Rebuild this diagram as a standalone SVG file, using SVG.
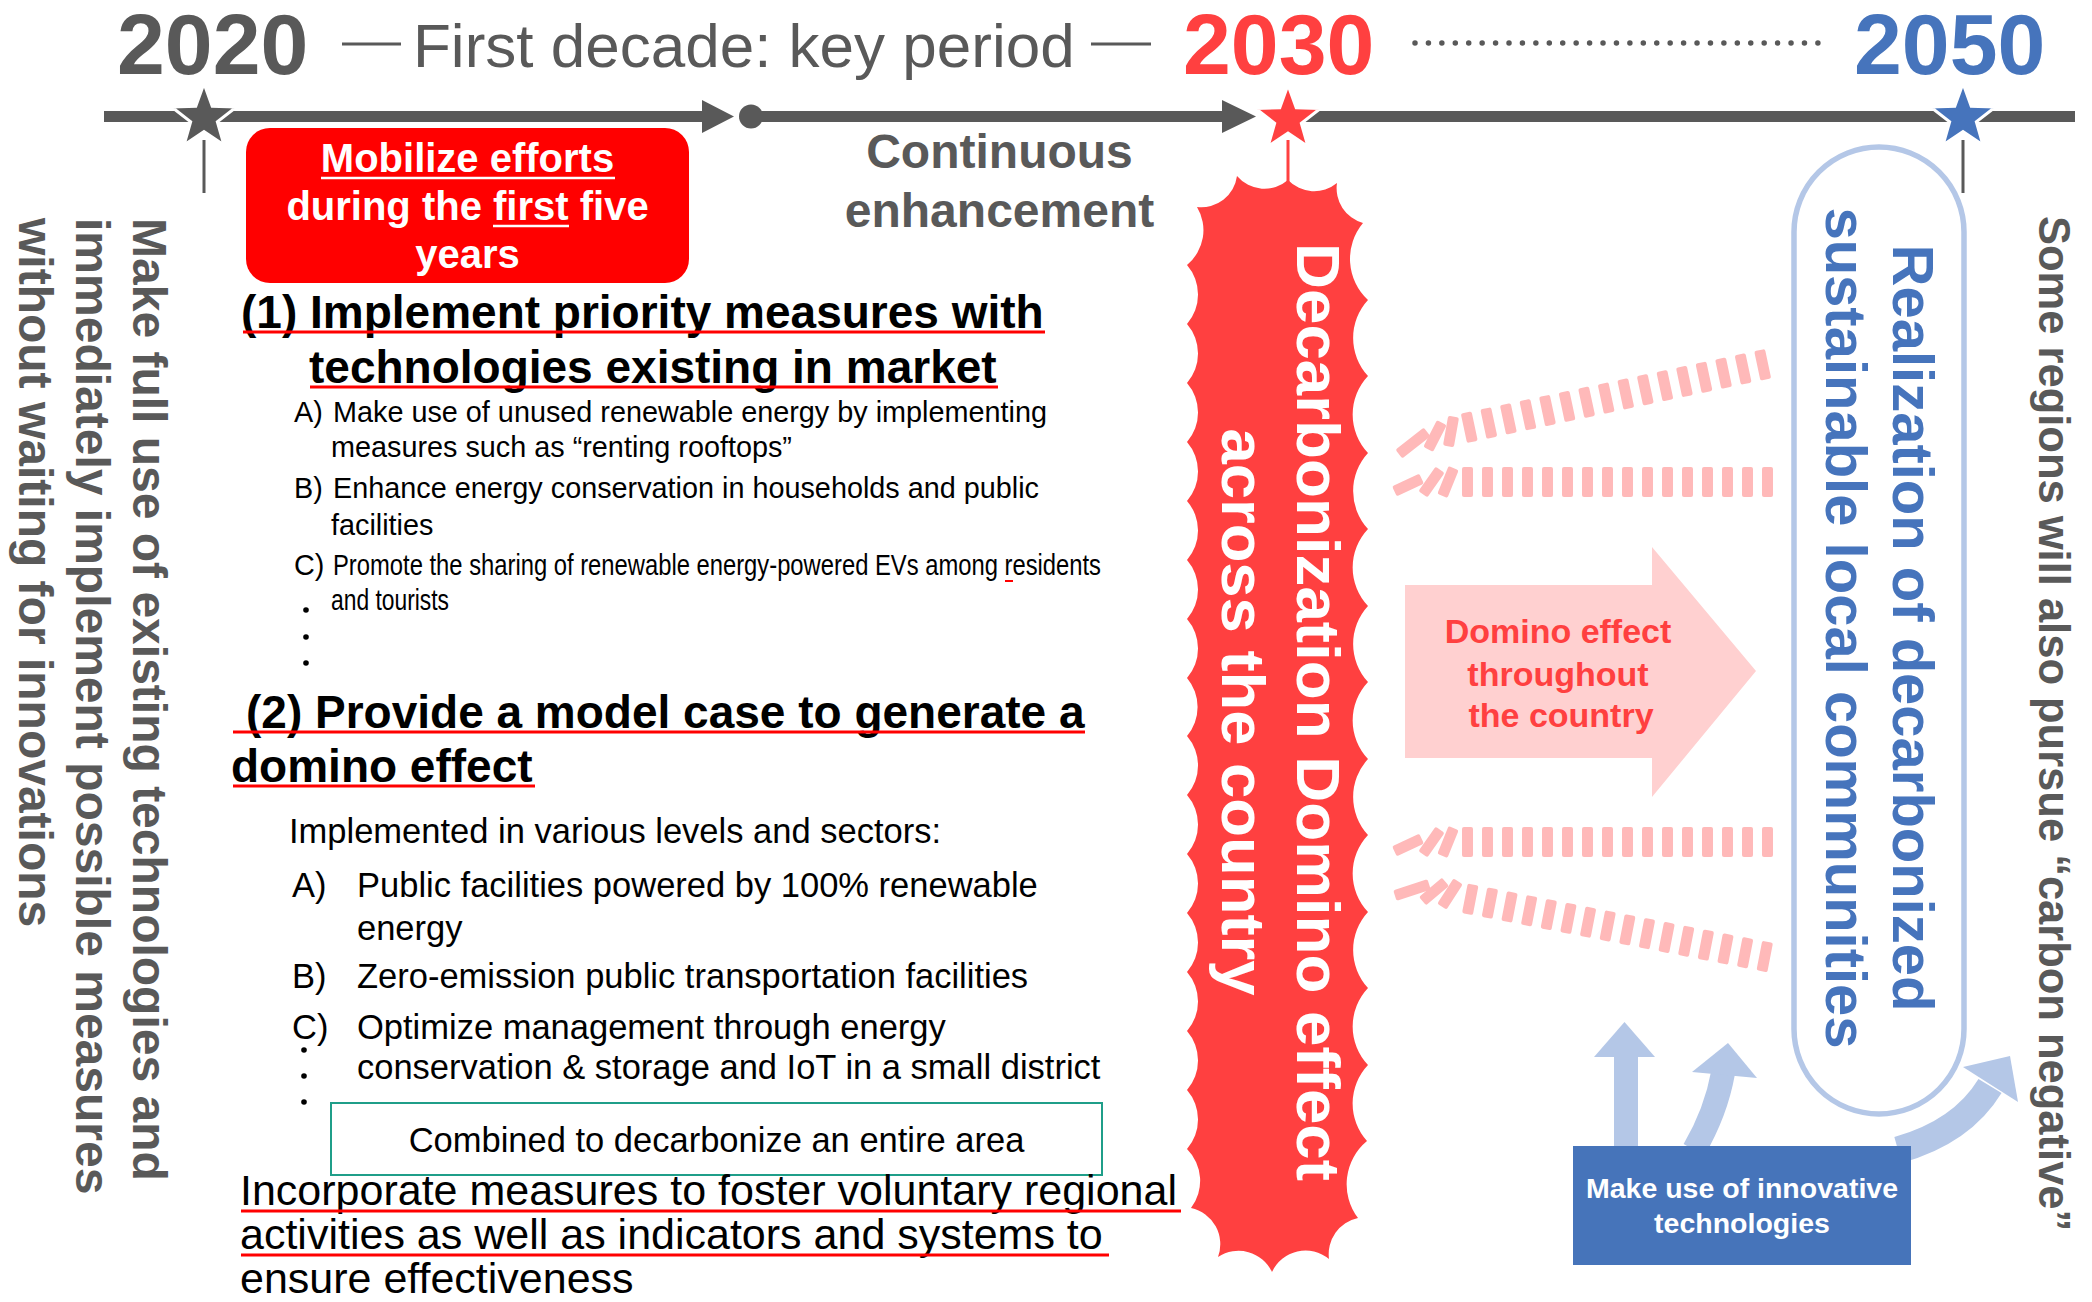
<svg xmlns="http://www.w3.org/2000/svg" xmlns:xlink="http://www.w3.org/1999/xlink" width="2092" height="1302" viewBox="0 0 2092 1302">
  <style>
    text { font-family: "Liberation Sans", Arial, sans-serif; }
    .b { font-weight: bold; }
    .grey { fill: #595959; }
    .year { font-size: 86px; font-weight: bold; }
    .h1 { font-size: 46px; font-weight: bold; fill: #000; }
    .item1 { font-size: 28.8px; fill: #000; }
    .item2 { font-size: 34.5px; fill: #000; }
    .foot { font-size: 43px; fill: #000; }
    .ul-red { stroke: #FF0000; stroke-width: 3; }
    .ul-white { stroke: #FFFFFF; stroke-width: 2.5; }
    .vert-grey { font-size: 48px; font-weight: bold; fill: #595959; }
    .tile { fill: #FFB9B9; }
    .lb { fill: #B4C7E7; }
    .lb-stroke { fill: none; stroke: #B4C7E7; }
    .dot { fill: #000; }
  </style>
  <defs>
    <path id="star" d="M0,-34 L8.23,-11.33 L32.34,-10.51 L13.32,4.33 L19.99,27.51 L0,14 L-19.99,27.51 L-13.32,4.33 L-32.34,-10.51 L-8.23,-11.33 Z"/>
    <rect id="tile" x="0" y="-30" width="11" height="30" rx="2"/>
    <rect id="tileC" x="-5.5" y="-15" width="11" height="30" rx="2"/>
    <rect id="tileL" x="-5.5" y="-18" width="11" height="36" rx="2"/>
  </defs>

  <rect width="2092" height="1302" fill="#FFFFFF"/>

  <!-- header: years and period caption -->
  <g id="header">
    <text x="117" y="74" class="year grey">2020</text>
    <line x1="342" y1="44" x2="401" y2="44" stroke="#595959" stroke-width="3"/>
    <text x="413" y="67" font-size="62" class="grey">First decade: key period</text>
    <line x1="1091" y1="44" x2="1151" y2="44" stroke="#595959" stroke-width="3"/>
    <text x="1183" y="74" class="year" fill="#FF4040">2030</text>
    <line x1="1415" y1="43" x2="1818" y2="43" stroke="#595959" stroke-width="5.5" stroke-linecap="round" stroke-dasharray="0 13.43"/>
    <text x="1854" y="74" class="year" fill="#4674BC">2050</text>
  </g>

  <!-- timeline bar with arrows and milestone stars -->
  <g id="timeline" fill="#595959">
    <rect x="104" y="111" width="600" height="11"/>
    <polygon points="702,100 734,116.5 702,133"/>
    <circle cx="751" cy="116.5" r="12"/>
    <rect x="751" y="111" width="473" height="11"/>
    <polygon points="1222,100 1256,116.5 1222,133"/>
    <rect x="1288" y="111" width="787" height="11"/>
    <use xlink:href="#star" transform="translate(204,117.5)" fill="#595959" stroke="#FFFFFF" stroke-width="3"/>
    <use xlink:href="#star" transform="translate(1288,119)" fill="#FF4040" stroke="#FFFFFF" stroke-width="3"/>
    <use xlink:href="#star" transform="translate(1963,117.5)" fill="#4674BC" stroke="#FFFFFF" stroke-width="3"/>
  </g>

  <!-- connectors: milestone ticks and light-blue arrows -->
  <g id="connectors">
    <line x1="204" y1="140" x2="204" y2="193" stroke="#595959" stroke-width="3"/>
    <line x1="1963" y1="140" x2="1963" y2="193" stroke="#595959" stroke-width="3"/>
    <line x1="1288" y1="140" x2="1288" y2="186" stroke="#FF4040" stroke-width="3"/>
    <rect class="lb" x="1614" y="1055" width="24" height="95"/>
    <polygon class="lb" points="1594,1057 1624.5,1022 1655,1057"/>
    <path class="lb-stroke" stroke-width="24" d="M1694,1150 Q1716,1112 1723,1073"/>
    <polygon class="lb" points="1692,1072 1728,1043 1757,1078"/>
    <path class="lb-stroke" stroke-width="27" d="M1898,1150 Q1962,1132 1990,1086"/>
    <polygon class="lb" points="1963,1067 2010,1056 2018,1102"/>
  </g>

  <!-- red label: first five years -->
  <g id="node-first-five">
    <rect x="246" y="128" width="443" height="155" rx="24" fill="#FF0000"/>
    <g fill="#FFFFFF" font-size="40" font-weight="bold" text-anchor="middle">
      <text x="467.5" y="172">Mobilize efforts</text>
      <text x="467.5" y="220">during the first five</text>
      <text x="467.5" y="268">years</text>
    </g>
    <line class="ul-white" x1="321" y1="178" x2="615" y2="178"/>
    <line class="ul-white" x1="493" y1="226" x2="569" y2="226"/>
  </g>

  <g id="node-continuous">
    <text x="999.5" y="168" font-size="48" text-anchor="middle" class="b grey">Continuous</text>
    <text x="999.5" y="227" font-size="48" text-anchor="middle" class="b grey">enhancement</text>
  </g>

  <!-- (1) priority measures -->
  <g id="node-priority">
    <text x="241" y="328" class="h1">(1) Implement priority measures with</text>
    <line class="ul-red" x1="243" y1="332" x2="1045" y2="332"/>
    <text x="309" y="383" class="h1">technologies existing in market</text>
    <line class="ul-red" x1="310" y1="387" x2="998" y2="387"/>
    <text x="294" y="422" class="item1">A)</text>
    <text x="333" y="422" class="item1">Make use of unused renewable energy by implementing</text>
    <text x="331" y="457" class="item1">measures such as “renting rooftops”</text>
    <text x="294" y="498" class="item1">B)</text>
    <text x="333" y="498" class="item1">Enhance energy conservation in households and public</text>
    <text x="331" y="535" class="item1">facilities</text>
    <text x="294" y="575" class="item1">C)</text>
    <text x="333" y="575" class="item1" textLength="768" lengthAdjust="spacingAndGlyphs">Promote the sharing of renewable energy-powered EVs among residents</text>
    <line x1="1005" y1="581" x2="1013" y2="581" stroke="#FF0000" stroke-width="2"/>
    <text x="331" y="610" class="item1" textLength="118" lengthAdjust="spacingAndGlyphs">and tourists</text>
    <circle class="dot" cx="306" cy="610" r="2.8"/>
    <circle class="dot" cx="306" cy="637" r="2.8"/>
    <circle class="dot" cx="306" cy="663" r="2.8"/>
  </g>

  <!-- (2) model case -->
  <g id="node-model-case">
    <text x="246" y="728" class="h1">(2) Provide a model case to generate a</text>
    <line class="ul-red" x1="233" y1="732" x2="1085" y2="732"/>
    <text x="231" y="782" class="h1">domino effect</text>
    <line class="ul-red" x1="233" y1="786" x2="535" y2="786"/>
    <text x="289" y="843" class="item2">Implemented in various levels and sectors:</text>
    <text x="292" y="897" class="item2">A)</text>
    <text x="357" y="897" class="item2">Public facilities powered by 100% renewable</text>
    <text x="357" y="940" class="item2">energy</text>
    <text x="292" y="988" class="item2">B)</text>
    <text x="357" y="988" class="item2">Zero-emission public transportation facilities</text>
    <text x="292" y="1039" class="item2">C)</text>
    <text x="357" y="1039" class="item2">Optimize management through energy</text>
    <text x="357" y="1079" class="item2">conservation &amp; storage and IoT in a small district</text>
    <circle class="dot" cx="304" cy="1050" r="2.8"/>
    <circle class="dot" cx="304" cy="1076" r="2.8"/>
    <circle class="dot" cx="304" cy="1102" r="2.8"/>
  </g>

  <g id="node-combined">
    <rect x="331" y="1103" width="771" height="72" fill="#FFFFFF" stroke="#1F9E89" stroke-width="2"/>
    <text x="716.5" y="1152" class="item2" text-anchor="middle">Combined to decarbonize an entire area</text>
  </g>

  <g id="node-incorporate">
    <text x="240" y="1205" class="foot">Incorporate measures to foster voluntary regional</text>
    <line class="ul-red" x1="241" y1="1211" x2="1181" y2="1211"/>
    <text x="240" y="1249" class="foot">activities as well as indicators and systems to</text>
    <line class="ul-red" x1="241" y1="1255" x2="1109" y2="1255"/>
    <text x="240" y="1293" class="foot">ensure effectiveness</text>
  </g>

  <!-- vertical note on the left -->
  <g id="node-existing-tech">
    <text transform="translate(133,218) rotate(90)" class="vert-grey">Make full use of existing technologies and</text>
    <text transform="translate(76,218) rotate(90)" class="vert-grey">immediately implement possible measures</text>
    <text transform="translate(19,218) rotate(90)" class="vert-grey">without waiting for innovations</text>
  </g>

  <!-- scalloped red banner -->
  <g id="node-domino-banner">
    <path fill="#FF4040" d="M1197,207 A36,36 0 0 0 1237,176 A36,36 0 0 0 1288,180 A36,36 0 0 0 1337,183 A36,36 0 0 0 1363,223
      A56,56 0 0 0 1368,300 A56,56 0 0 0 1368,376 A56,56 0 0 0 1368,453 A56,56 0 0 0 1368,529 A56,56 0 0 0 1368,606
      A56,56 0 0 0 1368,682 A56,56 0 0 0 1368,759 A56,56 0 0 0 1368,835 A56,56 0 0 0 1368,912 A56,56 0 0 0 1368,988
      A56,56 0 0 0 1368,1065 A56,56 0 0 0 1367,1141 A56,56 0 0 0 1358,1218
      A37,37 0 0 0 1329,1259 A37,37 0 0 0 1272,1272 A37,37 0 0 0 1218,1257 A37,37 0 0 0 1191,1208
      A45,45 0 0 0 1187,1149 A45,45 0 0 0 1187,1090 A45,45 0 0 0 1187,1031 A45,45 0 0 0 1187,972 A45,45 0 0 0 1187,913
      A45,45 0 0 0 1187,854 A45,45 0 0 0 1187,795 A45,45 0 0 0 1187,736 A45,45 0 0 0 1187,678 A45,45 0 0 0 1187,619
      A45,45 0 0 0 1187,560 A45,45 0 0 0 1187,501 A45,45 0 0 0 1187,442 A45,45 0 0 0 1187,383 A45,45 0 0 0 1187,324
      A45,45 0 0 0 1187,265 A45,45 0 0 0 1197,207 Z"/>
    <g fill="#FFFFFF" font-size="62" font-weight="bold" text-anchor="middle">
      <text transform="translate(1297,712) rotate(90)" textLength="938" lengthAdjust="spacingAndGlyphs">Decarbonization Domino effect</text>
      <text transform="translate(1222,712) rotate(90)" textLength="567" lengthAdjust="spacingAndGlyphs">across the country</text>
    </g>
  </g>

  <!-- falling domino rows -->
  <g id="dominoes" class="tile">
    <g transform="translate(1467,443) rotate(-12)">
      <use xlink:href="#tile" x="0"/><use xlink:href="#tile" x="20"/><use xlink:href="#tile" x="40"/><use xlink:href="#tile" x="60"/>
      <use xlink:href="#tile" x="80"/><use xlink:href="#tile" x="100"/><use xlink:href="#tile" x="120"/><use xlink:href="#tile" x="140"/>
      <use xlink:href="#tile" x="160"/><use xlink:href="#tile" x="180"/><use xlink:href="#tile" x="200"/><use xlink:href="#tile" x="220"/>
      <use xlink:href="#tile" x="240"/><use xlink:href="#tile" x="260"/><use xlink:href="#tile" x="280"/><use xlink:href="#tile" x="300"/>
    </g>
    <use xlink:href="#tileL" transform="translate(1413,443) rotate(52)"/>
    <use xlink:href="#tileC" transform="translate(1435,436) rotate(27)"/>
    <use xlink:href="#tileC" transform="translate(1451,431.5) rotate(10)"/>

    <g transform="translate(1462,497)">
      <use xlink:href="#tile" x="0"/><use xlink:href="#tile" x="20"/><use xlink:href="#tile" x="40"/><use xlink:href="#tile" x="60"/>
      <use xlink:href="#tile" x="80"/><use xlink:href="#tile" x="100"/><use xlink:href="#tile" x="120"/><use xlink:href="#tile" x="140"/>
      <use xlink:href="#tile" x="160"/><use xlink:href="#tile" x="180"/><use xlink:href="#tile" x="200"/><use xlink:href="#tile" x="220"/>
      <use xlink:href="#tile" x="240"/><use xlink:href="#tile" x="260"/><use xlink:href="#tile" x="280"/><use xlink:href="#tile" x="300"/>
    </g>
    <use xlink:href="#tileC" transform="translate(1408,485) rotate(65)"/>
    <use xlink:href="#tileC" transform="translate(1431.5,482) rotate(35)"/>
    <use xlink:href="#tileC" transform="translate(1448,482) rotate(22)"/>

    <g transform="translate(1462,857)">
      <use xlink:href="#tile" x="0"/><use xlink:href="#tile" x="20"/><use xlink:href="#tile" x="40"/><use xlink:href="#tile" x="60"/>
      <use xlink:href="#tile" x="80"/><use xlink:href="#tile" x="100"/><use xlink:href="#tile" x="120"/><use xlink:href="#tile" x="140"/>
      <use xlink:href="#tile" x="160"/><use xlink:href="#tile" x="180"/><use xlink:href="#tile" x="200"/><use xlink:href="#tile" x="220"/>
      <use xlink:href="#tile" x="240"/><use xlink:href="#tile" x="260"/><use xlink:href="#tile" x="280"/><use xlink:href="#tile" x="300"/>
    </g>
    <use xlink:href="#tileC" transform="translate(1408,845) rotate(65)"/>
    <use xlink:href="#tileC" transform="translate(1431.5,842) rotate(35)"/>
    <use xlink:href="#tileC" transform="translate(1448,842) rotate(22)"/>

    <g transform="translate(1462,913) rotate(11)">
      <use xlink:href="#tile" x="0"/><use xlink:href="#tile" x="20"/><use xlink:href="#tile" x="40"/><use xlink:href="#tile" x="60"/>
      <use xlink:href="#tile" x="80"/><use xlink:href="#tile" x="100"/><use xlink:href="#tile" x="120"/><use xlink:href="#tile" x="140"/>
      <use xlink:href="#tile" x="160"/><use xlink:href="#tile" x="180"/><use xlink:href="#tile" x="200"/><use xlink:href="#tile" x="220"/>
      <use xlink:href="#tile" x="240"/><use xlink:href="#tile" x="260"/><use xlink:href="#tile" x="280"/><use xlink:href="#tile" x="300"/>
    </g>
    <use xlink:href="#tileL" transform="translate(1412,890) rotate(72)"/>
    <use xlink:href="#tileC" transform="translate(1434,891.5) rotate(50)"/>
    <use xlink:href="#tileC" transform="translate(1450,894) rotate(33)"/>
  </g>

  <!-- pink block arrow -->
  <g id="node-domino-arrow">
    <path fill="#FFD0D0" d="M1405,585 L1652,585 L1652,547 L1756,671 L1652,797 L1652,758 L1405,758 Z"/>
    <g fill="#FF4040" font-size="34" font-weight="bold" text-anchor="middle">
      <text x="1558" y="643">Domino effect</text>
      <text x="1558" y="686">throughout</text>
      <text x="1561" y="727">the country</text>
    </g>
  </g>

  <!-- goal capsule -->
  <g id="node-goal">
    <rect x="1794" y="147" width="170" height="967" rx="85" fill="#FFFFFF" stroke="#B4C7E7" stroke-width="5.5"/>
    <g fill="#4674BC" font-size="58" font-weight="bold" text-anchor="middle">
      <text transform="translate(1893,628) rotate(90)">Realization of decarbonized</text>
      <text transform="translate(1826,628) rotate(90)">sustainable local communities</text>
    </g>
  </g>

  <g id="node-carbon-negative">
    <text transform="translate(2039,216) rotate(90)" font-size="43.5" class="b grey">Some regions will also pursue “carbon negative”</text>
  </g>

  <g id="node-innovative">
    <rect x="1573" y="1146" width="338" height="119" fill="#4674BA"/>
    <g fill="#FFFFFF" font-size="28.5" font-weight="bold" text-anchor="middle">
      <text x="1742" y="1198">Make use of innovative</text>
      <text x="1742" y="1233">technologies</text>
    </g>
  </g>
</svg>
